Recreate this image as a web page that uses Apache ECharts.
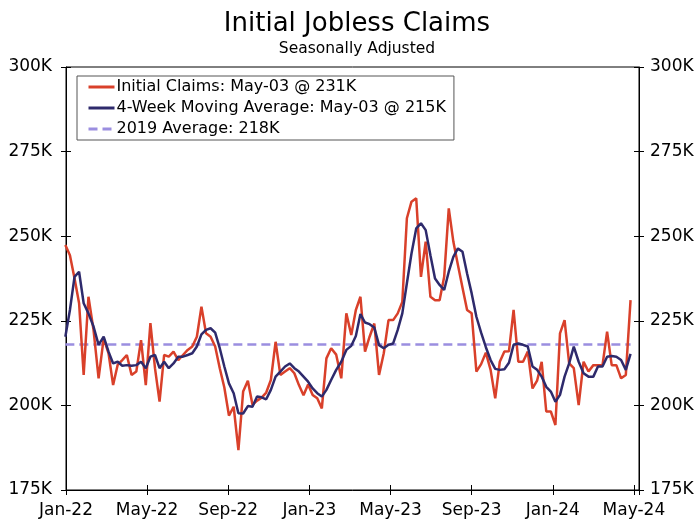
<!DOCTYPE html>
<html>
<head>
<meta charset="utf-8">
<title>Initial Jobless Claims</title>
<script src="https://cdn.jsdelivr.net/npm/echarts@6/dist/echarts.min.js"></script>
<style>
  html, body { margin: 0; padding: 0; background: #fff; }
  #chart { width: 697px; height: 521px; }
</style>
</head>
<body>
<div id="chart"></div>
<script>
// weekly initial claims, thousands, seasonally adjusted
const claims = [
  247.4, 244.4, 237.6, 230.2, 209.0, 232.1, 222.3, 208.0, 219.8, 215.4,
  206.0, 212.0, 213.4, 214.9, 209.0, 210.0, 219.3, 206.0, 224.3, 211.0,
  201.1, 214.9, 214.4, 215.9, 213.4, 214.9, 216.4, 217.4, 220.3, 229.2,
  221.3, 220.3, 217.4, 211.0, 205.3, 197.0, 199.6, 186.8, 204.1, 207.3,
  200.2, 201.4, 202.3, 203.8, 207.5, 218.8, 209.0, 210.0, 211.0, 209.5,
  206.0, 203.0, 206.2, 203.1, 202.1, 199.1, 213.9, 216.9, 215.0, 208.0,
  227.2, 220.8, 228.2, 232.1, 215.9, 220.3, 224.2, 209.0, 215.4, 225.2,
  225.2, 227.2, 230.6, 255.3, 260.2, 261.2, 238.0, 248.4, 232.1, 231.1,
  231.1, 238.0, 258.2, 248.4, 241.5, 234.8, 228.2, 227.2, 210.0, 212.2,
  215.6, 210.5, 202.1, 212.9, 215.9, 216.0, 228.2, 212.9, 212.9, 215.9,
  205.0, 207.3, 212.9, 198.2, 198.2, 194.2, 221.3, 225.2, 212.4, 211.0,
  200.1, 212.9, 210.0, 211.9, 211.9, 211.9, 221.8, 211.9, 211.9, 208.0,
  209.0, 231.1
];

// 4-week moving average, thousands
const movingAvg = [
  220.3, 228.2, 238.0, 239.5, 230.2, 227.2, 223.3, 217.9, 220.3, 215.9,
  212.4, 212.9, 211.7, 211.9, 211.7, 211.9, 212.9, 211.0, 214.4, 214.9,
  211.0, 212.9, 211.0, 212.4, 214.4, 214.4, 214.9, 215.4, 217.4, 221.0,
  222.3, 222.8, 221.5, 216.9, 211.5, 206.5, 203.6, 197.7, 197.6, 199.8,
  199.6, 202.6, 202.4, 201.8, 204.6, 208.5, 210.0, 211.5, 212.4, 211.0,
  210.0, 208.5, 207.0, 205.0, 203.6, 202.6, 204.6, 207.5, 210.5, 212.9,
  216.4, 217.6, 220.5, 227.0, 224.5, 224.0, 223.0, 217.8, 216.9, 217.9,
  218.3, 222.3, 227.2, 236.1, 244.9, 252.3, 253.8, 251.8, 244.4, 237.5,
  235.6, 234.1, 239.5, 243.9, 246.4, 245.4, 239.0, 233.1, 226.2, 221.5,
  217.2, 213.4, 210.8, 210.5, 210.7, 212.6, 217.9, 218.3, 217.9, 217.4,
  211.5, 210.5, 208.5, 205.5, 204.1, 201.1, 203.1, 208.5, 212.4, 217.4,
  212.9, 209.5, 208.5, 208.5, 211.5, 211.5, 214.4, 214.6, 214.4, 213.4,
  210.5, 215.2
];

const avg2019 = 218;

// x ticks every 4 months starting Jan-22
const monthLabels = ['Jan-22', 'May-22', 'Sep-22', 'Jan-23', 'May-23', 'Sep-23', 'Jan-24', 'May-24'];

const legendNames = [
  'Initial Claims: May-03 @ 231K',
  '4-Week Moving Average: May-03 @ 215K',
  '2019 Average: 218K'
];

// first plotted week (points sit at the start of each claims week)
const firstWeek = Date.UTC(2021, 11, 31);
const WEEK = 7 * 24 * 3600 * 1000;

const FONT = "'DejaVu Sans', sans-serif";

// fractional months since Jan 1 2022
function monthPos(t) {
    const d = new Date(t);
    const y = d.getUTCFullYear(), m = d.getUTCMonth();
    const dim = new Date(Date.UTC(y, m + 1, 0)).getUTCDate();
    return (y - 2022) * 12 + m + (d.getUTCDate() - 1) / dim;
}

const xs = claims.map((v, i) => monthPos(firstWeek + i * WEEK));
const claimsData = claims.map((v, i) => [xs[i], v]);
const avgData = movingAvg.map((v, i) => [xs[i], v]);
const avg2019Data = [[xs[0], avg2019], [xs[xs.length - 1], avg2019]];

const X_MAX = 28.25;

function xLabel(v) {
    const r = Math.round(v);
    if (Math.abs(v - r) > 1e-6 || r % 4 !== 0) return '';
    return monthLabels[r / 4] || '';
}

const baseX = {
    type: 'value', min: 0, max: X_MAX, interval: 4,
    position: 'bottom',
    splitLine: { show: false }
};
const baseY = {
    type: 'value', min: 175, max: 300, interval: 25,
    splitLine: { show: false }
};

const chart = echarts.init(document.getElementById('chart'));

chart.setOption({
    backgroundColor: '#fff',
    animation: false,
    textStyle: { fontFamily: FONT },
    title: {
        text: 'Initial Jobless Claims',
        subtext: 'Seasonally Adjusted',
        left: 352, top: 6,
        textAlign: 'center',
        itemGap: 4,
        textStyle: { fontFamily: FONT, fontSize: 26, fontWeight: 'normal', color: '#000' },
        subtextStyle: { fontFamily: FONT, fontSize: 15.5, color: '#000' }
    },
    legend: {
        orient: 'vertical',
        left: 77, top: 76,
        padding: [3, 8, 3, 10],
        itemGap: 5,
        itemWidth: 26, itemHeight: 18,
        backgroundColor: '#fff',
        borderColor: '#555',
        borderWidth: 1,
        itemStyle: { opacity: 0 },
        lineStyle: { width: 3 },
        textStyle: { fontFamily: FONT, fontSize: 16, color: '#000', padding: [0, 0, 0, -3] },
        data: legendNames
    },
    grid: {
        left: 66, right: 58, top: 67, bottom: 31,
        show: true, borderColor: '#000', borderWidth: 1, backgroundColor: 'transparent'
    },
    xAxis: [
        Object.assign({}, baseX, {
            axisLine: { lineStyle: { color: '#000', width: 1 } },
            axisTick: { inside: false, length: 5, lineStyle: { color: '#000' } },
            axisLabel: {
                formatter: xLabel, color: '#000', fontSize: 17, margin: 12,
                fontFamily: FONT, showMaxLabel: true
            }
        }),
        Object.assign({}, baseX, {
            axisLine: { show: false },
            axisTick: { inside: true, length: 5, lineStyle: { color: '#000' } },
            axisLabel: { show: false }
        })
    ],
    yAxis: [
        Object.assign({}, baseY, {
            position: 'left',
            axisLine: { show: true, lineStyle: { color: '#000' } },
            axisTick: { inside: false, length: 5, lineStyle: { color: '#000' } },
            axisLabel: { formatter: '{value}K', color: '#000', fontSize: 17, margin: 14, fontFamily: FONT }
        }),
        Object.assign({}, baseY, {
            position: 'left',
            axisLine: { show: false },
            axisTick: { inside: true, length: 5, lineStyle: { color: '#000' } },
            axisLabel: { show: false }
        }),
        Object.assign({}, baseY, {
            position: 'right',
            axisLine: { show: true, lineStyle: { color: '#000' } },
            axisTick: { inside: false, length: 5, lineStyle: { color: '#000' } },
            axisLabel: { formatter: '{value}K', color: '#000', fontSize: 17, margin: 11, fontFamily: FONT }
        }),
        Object.assign({}, baseY, {
            position: 'right',
            axisLine: { show: false },
            axisTick: { inside: true, length: 5, lineStyle: { color: '#000' } },
            axisLabel: { show: false }
        })
    ],
    series: [
        {
            name: legendNames[2],
            type: 'line',
            data: avg2019Data,
            symbol: 'none',
            color: '#9b8ee0',
            lineStyle: { color: '#9b8ee0', width: 2.5, type: [9, 5] },
            z: 1
        },
        {
            name: legendNames[0],
            type: 'line',
            data: claimsData,
            symbol: 'none',
            color: '#d9402a',
            lineStyle: { color: '#d9402a', width: 2.5 },
            z: 2
        },
        {
            name: legendNames[1],
            type: 'line',
            data: avgData,
            symbol: 'none',
            color: '#2e2a6c',
            lineStyle: { color: '#2e2a6c', width: 2.5 },
            z: 3
        }
    ]
});
</script>
</body>
</html>
